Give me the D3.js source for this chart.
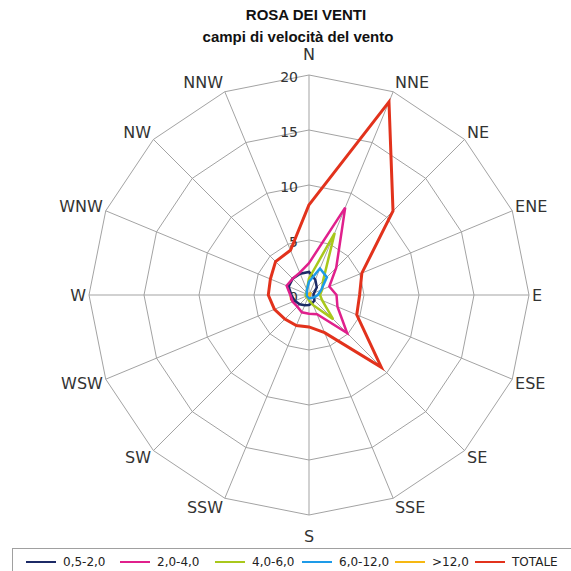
<!DOCTYPE html>
<html>
<head>
<meta charset="utf-8">
<script src="https://cdn.jsdelivr.net/npm/d3@7"></script>
<style>
  body { margin: 0; background: #fff; }
  svg { display: block; font-family: "DejaVu Sans", sans-serif; }
</style>
</head>
<body>
<div id="chart"></div>
<script>
// directions, clockwise from north
const directions = ["N", "NNE", "NE", "ENE", "E", "ESE", "SE", "SSE", "S", "SSW", "SW", "WSW", "W", "WNW", "NW", "NNW"];
const radialTicks = [0, 5, 10, 15, 20];

// frequency per speed class
const v05_20 = [2.1, 1.5, 1.0, 0.5, 0.4, 0.5, 0.7, 0.8, 0.9, 1.0, 1.2, 1.4, 1.6, 2.0, 2.1, 2.1];
const v20_40 = [2.9, 8.6, 3.5, 2.0, 2.5, 2.8, 4.9, 1.9, 1.7, 1.7, 1.5, 1.6, 1.7, 2.2, 2.1, 2.2];
const v40_60 = [1.5, 6.1, 1.8, 1.3, 1.0, 1.3, 3.1, 1.0, 0.5, 0.3, 0.3, 0.3, 0.3, 0.3, 0.3, 0.5];
const v60_120 = [1.2, 2.6, 2.3, 1.2, 0.8, 0.5, 0.4, 0.3, 0.3, 0.2, 0.2, 0.2, 0.2, 0.2, 0.3, 0.5];
const v120 = [0.1, 0.2, 0.2, 0.1, 0.1, 0.1, 0.1, 0.0, 0.0, 0.0, 0.0, 0.0, 0.0, 0.0, 0.0, 0.0];
const totale = [8.2, 19.0, 10.8, 5.2, 4.6, 4.7, 9.3, 3.7, 2.9, 3.0, 3.1, 3.4, 3.7, 3.8, 4.3, 4.4];

const series = [
  { name: "0,5-2,0", values: v05_20, color: "#1c2a66", width: 2.5 },
  { name: "2,0-4,0", values: v20_40, color: "#e0208c", width: 2.5 },
  { name: "4,0-6,0", values: v40_60, color: "#a9c81c", width: 2.5 },
  { name: "6,0-12,0", values: v60_120, color: "#1e9be8", width: 2.5 },
  { name: ">12,0", values: v120, color: "#f6b812", width: 2 },
  { name: "TOTALE", values: totale, color: "#e2321c", width: 3 }
];

const width = 571, height = 571;
const cx = 309, cy = 295, outer = 220;

const svg = d3.select("#chart").append("svg")
  .attr("width", width)
  .attr("height", height);

// titles
svg.append("text")
  .attr("x", 306).attr("y", 20)
  .attr("text-anchor", "middle")
  .style("font-family", "'Liberation Sans', Arial, sans-serif")
  .attr("font-weight", "bold").attr("font-size", 15)
  .attr("fill", "#111")
  .text("ROSA DEI VENTI");
svg.append("text")
  .attr("x", 298).attr("y", 42)
  .attr("text-anchor", "middle")
  .style("font-family", "'Liberation Sans', Arial, sans-serif")
  .attr("font-weight", "bold").attr("font-size", 15)
  .attr("fill", "#111")
  .text("campi di velocità del vento");

const r = d3.scaleLinear().domain([0, 20]).range([0, outer]);
const angle = d3.scaleLinear().domain([0, directions.length]).range([0, 2 * Math.PI]);

const g = svg.append("g").attr("transform", `translate(${cx},${cy})`);

// --- grid ---
const ring = d3.lineRadial()
  .angle((d, i) => angle(i))
  .radius(d => r(d))
  .curve(d3.curveLinearClosed);

radialTicks.filter(t => t > 0).forEach(t => {
  g.append("path")
    .attr("d", ring(directions.map(() => t)))
    .attr("fill", "none")
    .attr("stroke", "#a3a3a3")
    .attr("stroke-width", 1);
});

g.selectAll(".spoke")
  .data(directions)
  .enter().append("line")
  .attr("class", "spoke")
  .attr("x1", 0).attr("y1", 0)
  .attr("x2", (d, i) => r(20) * Math.sin(angle(i)))
  .attr("y2", (d, i) => -r(20) * Math.cos(angle(i)))
  .attr("stroke", "#a3a3a3")
  .attr("stroke-width", 1);

// direction labels: box placed just outside the end of each spoke
g.selectAll(".dir")
  .data(directions)
  .enter().append("text")
  .attr("class", "dir")
  .attr("text-anchor", "middle")
  .attr("dominant-baseline", "central")
  .attr("font-size", 16)
  .attr("fill", "#333")
  .text(d => d)
  .each(function(d, i) {
    const a = angle(i);
    const s = Math.sin(a), c = Math.cos(a);
    const w = this.getComputedTextLength();
    const px = (outer + 2) * s, py = -(outer + 2) * c;
    let dx = Math.abs(s) > 0.1 ? Math.sign(s) * (w / 2 + 1) : 0;
    let dy = -c * 8;
    if (Math.abs(s) < 0.1) dy = -c * 19;
    d3.select(this).attr("x", px + dx).attr("y", py + dy);
  });

// radial tick labels
g.selectAll(".tick")
  .data(radialTicks)
  .enter().append("text")
  .attr("class", "tick")
  .attr("x", -11)
  .attr("y", d => -r(d) + 2)
  .attr("text-anchor", "end")
  .attr("dominant-baseline", "central")
  .attr("font-size", 14)
  .attr("fill", "#333")
  .text(d => d);

// --- data ---
const line = d3.lineRadial()
  .angle((d, i) => angle(i))
  .radius(d => r(d))
  .curve(d3.curveLinearClosed);

series.forEach(s => {
  g.append("path")
    .datum(s.values)
    .attr("d", line)
    .attr("fill", "none")
    .attr("stroke", s.color)
    .attr("stroke-width", s.width)
    .attr("stroke-linejoin", "miter");
});

// --- legend ---
svg.append("rect")
  .attr("x", 12.5).attr("y", 548.5)
  .attr("width", 580).attr("height", 40)
  .attr("fill", "none")
  .attr("stroke", "#a0a0a0");

const legendX = [26, 120, 215, 302, 395, 475];
const leg = svg.selectAll(".leg")
  .data(series)
  .enter().append("g")
  .attr("class", "leg")
  .attr("transform", (d, i) => `translate(${legendX[i]},562)`);
leg.append("line")
  .attr("x1", 0).attr("x2", 30)
  .attr("stroke", d => d.color)
  .attr("stroke-width", 2);
leg.append("text")
  .attr("x", 37)
  .attr("dominant-baseline", "central")
  .attr("font-size", 12)
  .attr("fill", "#222")
  .text(d => d.name);
</script>
</body>
</html>
